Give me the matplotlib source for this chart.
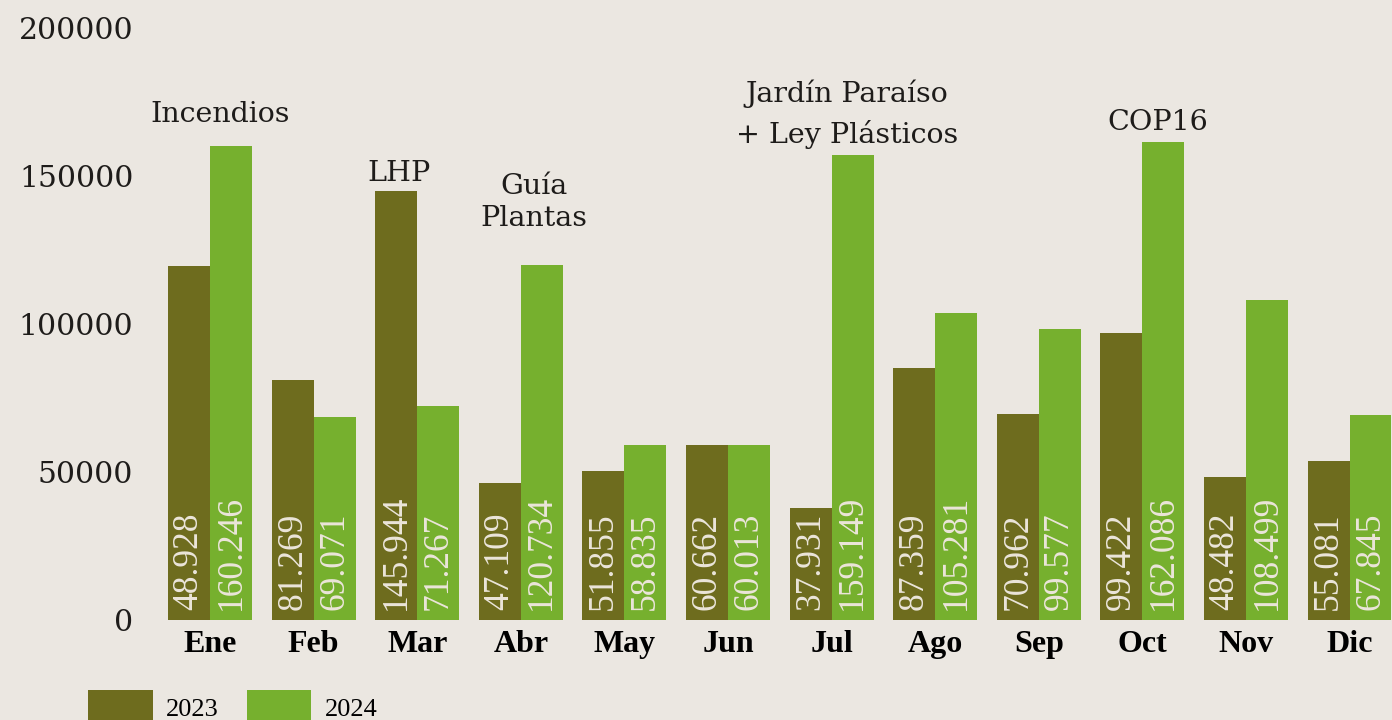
import matplotlib
matplotlib.use("Agg")
import matplotlib.pyplot as plt
import numpy as np

# -------------------------
# Data
# -------------------------
months = ["Ene", "Feb", "Mar", "Abr", "May", "Jun",
          "Jul", "Ago", "Sep", "Oct", "Nov", "Dic"]

# bar heights as drawn
vals_2023 = [119500, 81100, 144800, 46400, 50200, 59200,
             37900, 85200, 69600, 96800, 48400, 53700]
vals_2024 = [160200, 68700, 72300, 119900, 59200, 59200,
             157100, 103700, 98300, 161500, 108100, 69300]

# labels printed inside the bars
labels_2023 = ["48.928", "81.269", "145.944", "47.109", "51.855", "60.662",
               "37.931", "87.359", "70.962", "99.422", "48.482", "55.081"]
labels_2024 = ["160.246", "69.071", "71.267", "120.734", "58.835", "60.013",
               "159.149", "105.281", "99.577", "162.086", "108.499", "67.845"]

# event notes: (text, x position in month units, baseline value)
notes = [
    ("Incendios", 0.10, 168300),
    ("LHP", 1.82, 148400),
    ("Guía", 3.13, 143900),
    ("Plantas", 3.13, 133100),
    ("Jardín Paraíso", 6.15, 175100),
    ("+ Ley Plásticos", 6.15, 161000),
    ("COP16", 9.15, 165500),
]

BG = "#ebe7e1"
C23 = "#6e6c1e"
C24 = "#76b02e"
TXT = "#1e1c1a"

fig = plt.figure(figsize=(13.92, 7.2), dpi=100, facecolor=BG)
ax = fig.add_axes([150 / 1392, 100 / 720, 1242 / 1392, 592 / 720])
ax.set_facecolor(BG)

x = np.arange(len(months))
w = 0.405
b23 = ax.bar(x - w / 2, vals_2023, width=w, color=C23, label="2023")
b24 = ax.bar(x + w / 2, vals_2024, width=w, color=C24, label="2024")

# value labels inside bars
for xi, lab in zip(x - w / 2, labels_2023):
    ax.text(xi, 3400, lab, rotation=90, ha="center", va="bottom",
            color="#ebe5da", fontsize=25.5, family="Liberation Serif")
for xi, lab in zip(x + w / 2, labels_2024):
    ax.text(xi, 3400, lab, rotation=90, ha="center", va="bottom",
            color="#ebe5da", fontsize=25.5, family="Liberation Serif")

# notes above bars
for txt, xn, yn in notes:
    ax.text(xn, yn, txt, ha="center", va="baseline", color=TXT,
            fontsize=20.5, family="DejaVu Serif", clip_on=False)

ax.set_xlim(-0.58, 11.41)
ax.set_ylim(0, 200000)
ax.set_yticks([0, 50000, 100000, 150000, 200000])
ax.set_yticklabels(["0", "50000", "100000", "150000", "200000"],
                   family="DejaVu Serif", fontsize=21.5, color=TXT)
ax.set_xticks(x)
ax.set_xticklabels(months, family="Liberation Serif", fontweight="bold",
                   fontsize=23, color="black")
ax.tick_params(axis="y", length=0, pad=12)
ax.tick_params(axis="x", length=0, pad=7)
for s in ax.spines.values():
    s.set_visible(False)

fig.legend(handles=[b23, b24], labels=["2023", "2024"], loc="upper left",
           bbox_to_anchor=(88 / 1392, 30 / 720), ncol=2, frameon=False,
           prop={"family": "Liberation Serif", "size": 19},
           handlelength=2.46, handleheight=1.6, handletextpad=0.5,
           columnspacing=1.05, borderpad=0, borderaxespad=0)

fig.savefig("out.png", dpi=100, facecolor=BG)
